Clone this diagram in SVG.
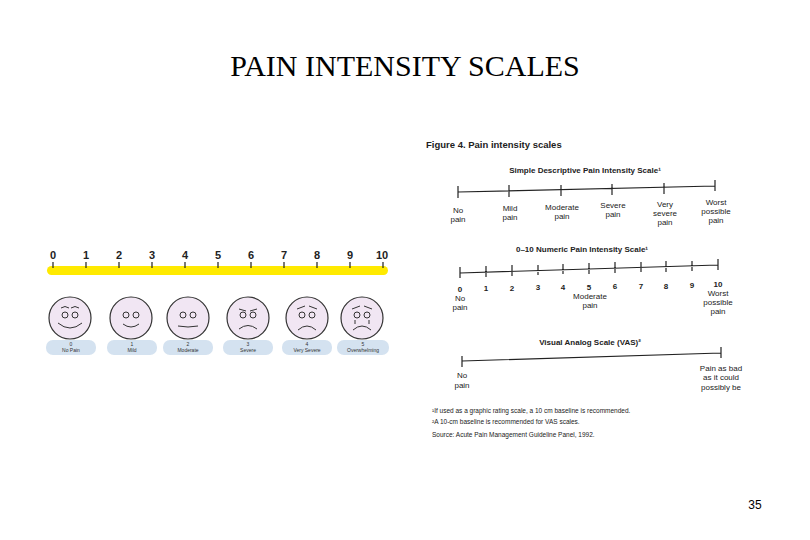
<svg xmlns="http://www.w3.org/2000/svg" width="810" height="540" viewBox="0 0 810 540">
<style>
.t{font-family:"Liberation Sans",Arial,sans-serif;fill:#222}
.s{font-size:8px;text-anchor:middle}
.b{font-weight:bold}
.ln{stroke:#222;stroke-width:1.2;fill:none}
.face{fill:#f1e6f3;stroke:#333;stroke-width:1.2}
.f{fill:none;stroke:#333;stroke-width:1}
.pill{fill:#d4e2f0}
.pl{font-size:5px;text-anchor:middle;fill:#333;font-family:"Liberation Sans",Arial,sans-serif}
.num{font-family:"Liberation Sans",Arial,sans-serif;font-weight:bold;font-size:11px;text-anchor:middle;fill:#222}
</style>
<rect width="810" height="540" fill="#fff"/>
<text x="405" y="76" font-family="Liberation Serif,serif" font-size="30" text-anchor="middle" fill="#000">PAIN INTENSITY SCALES</text>
<g id="faces-scale">
<rect x="47" y="266" width="341" height="9" rx="4.5" fill="#ffea00"/>
<g class="num">
<text x="53" y="259">0</text><text x="86" y="259">1</text><text x="119" y="259">2</text><text x="152" y="259">3</text><text x="185" y="259">4</text><text x="218" y="259">5</text><text x="251" y="259">6</text><text x="284" y="259">7</text><text x="317" y="259">8</text><text x="350" y="259">9</text><text x="382" y="259">10</text>
</g>
<path class="ln" stroke-width="1.5" d="M53 262v6M86 262v6M119 262v6M152 262v6M185 262v6M218 262v6M251 262v6M284 262v6M317 262v6M350 262v6M383 262v6"/>
<g id="face0"><circle class="face" cx="70" cy="318" r="21"/><circle class="f" cx="65" cy="315" r="3"/><circle class="f" cx="75" cy="315" r="3"/><path class="f" d="M58 323q12 10 24 0M61 308q4-3 8 0M71 308q4-3 8 0"/></g>
<g id="face1"><circle class="face" cx="131" cy="318" r="21"/><circle class="f" cx="126" cy="315" r="3"/><circle class="f" cx="136" cy="315" r="3"/><path class="f" d="M123 324q8 6 16 0"/></g>
<g id="face2"><circle class="face" cx="188" cy="318" r="21"/><circle class="f" cx="183" cy="315" r="3"/><circle class="f" cx="193" cy="315" r="3"/><path class="f" d="M178 326q10 2 20 0"/></g>
<g id="face3"><circle class="face" cx="248" cy="318" r="21"/><circle class="f" cx="243" cy="315" r="3"/><circle class="f" cx="253" cy="315" r="3"/><path class="f" d="M239 329q9-7 18 0M239 309l7 2M257 309l-7 2"/></g>
<g id="face4"><circle class="face" cx="307" cy="318" r="21"/><circle class="f" cx="302" cy="315" r="3"/><circle class="f" cx="312" cy="315" r="3"/><path class="f" d="M298 330q9-8 18 0M297 309l8-3M317 309l-8-3"/></g>
<g id="face5"><circle class="face" cx="362" cy="318" r="21"/><circle class="f" cx="357" cy="315" r="3"/><circle class="f" cx="367" cy="315" r="3"/><path class="f" d="M353 330q9-8 18 0M352 309l8-3M372 309l-8-3M355 320v4M369 320v4"/></g>
<g id="labels">
<rect class="pill" x="46" y="340" width="50" height="15" rx="7"/><text class="pl" x="71" y="346">0</text><text class="pl" x="71" y="352">No Pain</text>
<rect class="pill" x="107" y="340" width="50" height="15" rx="7"/><text class="pl" x="132" y="346">1</text><text class="pl" x="132" y="352">Mild</text>
<rect class="pill" x="163" y="340" width="50" height="15" rx="7"/><text class="pl" x="188" y="346">2</text><text class="pl" x="188" y="352">Moderate</text>
<rect class="pill" x="223" y="340" width="50" height="15" rx="7"/><text class="pl" x="248" y="346">3</text><text class="pl" x="248" y="352">Severe</text>
<rect class="pill" x="282" y="340" width="50" height="15" rx="7"/><text class="pl" x="307" y="346">4</text><text class="pl" x="307" y="352">Very Severe</text>
<rect class="pill" x="337" y="340" width="52" height="15" rx="7"/><text class="pl" x="363" y="346">5</text><text class="pl" x="363" y="352">Overwhelming</text>
</g>
</g>
<g id="figure4" class="t">
<text x="426" y="148" font-size="9.5" class="b">Figure 4.  Pain intensity scales</text>
<text x="585" y="173" class="s b">Simple Descriptive Pain Intensity Scale¹</text>
<path class="ln" d="M458 192L715 186M458 186v12M509 185v12M561 185v11M612 184v11M664 183v11M715 180v11"/>
<g class="s"><text x="458" y="213">No</text><text x="458" y="222">pain</text>
<text x="510" y="211">Mild</text><text x="510" y="220">pain</text>
<text x="562" y="210">Moderate</text><text x="562" y="219">pain</text>
<text x="613" y="208">Severe</text><text x="613" y="217">pain</text>
<text x="665" y="207">Very</text><text x="665" y="216">severe</text><text x="665" y="225">pain</text>
<text x="716" y="205">Worst</text><text x="716" y="214">possible</text><text x="716" y="223">pain</text></g>
<text x="582" y="252" class="s b">0–10 Numeric Pain Intensity Scale¹</text>
<path class="ln" d="M460 273L718 265M460 267v11M486 266v11M512 265v11M538 265v10M563 264v10M589 263v11M615 262v11M641 262v10M666 261v11M692 261v10M718 259v11"/>
<g class="s b" font-weight="bold"><text x="460" y="292">0</text><text x="486" y="291">1</text><text x="512" y="291">2</text><text x="538" y="290">3</text><text x="563" y="290">4</text><text x="589" y="290">5</text><text x="615" y="289">6</text><text x="641" y="289">7</text><text x="666" y="289">8</text><text x="692" y="288">9</text><text x="718" y="287">10</text></g>
<g class="s"><text x="460" y="301">No</text><text x="460" y="310">pain</text>
<text x="590" y="299">Moderate</text><text x="590" y="308">pain</text>
<text x="718" y="296">Worst</text><text x="718" y="305">possible</text><text x="718" y="314">pain</text></g>
<text x="590" y="345" class="s b">Visual Analog Scale (VAS)²</text>
<path class="ln" d="M462 361L721 353M462 356v11M721 347v11"/>
<g class="s"><text x="462" y="378">No</text><text x="462" y="388">pain</text>
<text x="721" y="371">Pain as bad</text><text x="721" y="380">as it could</text><text x="721" y="390">possibly be</text></g>
<g font-size="6.5"><text x="432" y="413">¹If used as a graphic rating scale, a 10 cm baseline is recommended.</text>
<text x="432" y="424">²A 10-cm baseline is recommended for VAS scales.</text>
<text x="432" y="437">Source: Acute Pain Management Guideline Panel, 1992.</text></g>
</g>
<text x="755" y="509" font-family="Liberation Sans,Arial,sans-serif" font-size="12" text-anchor="middle" fill="#000">35</text>
</svg>
